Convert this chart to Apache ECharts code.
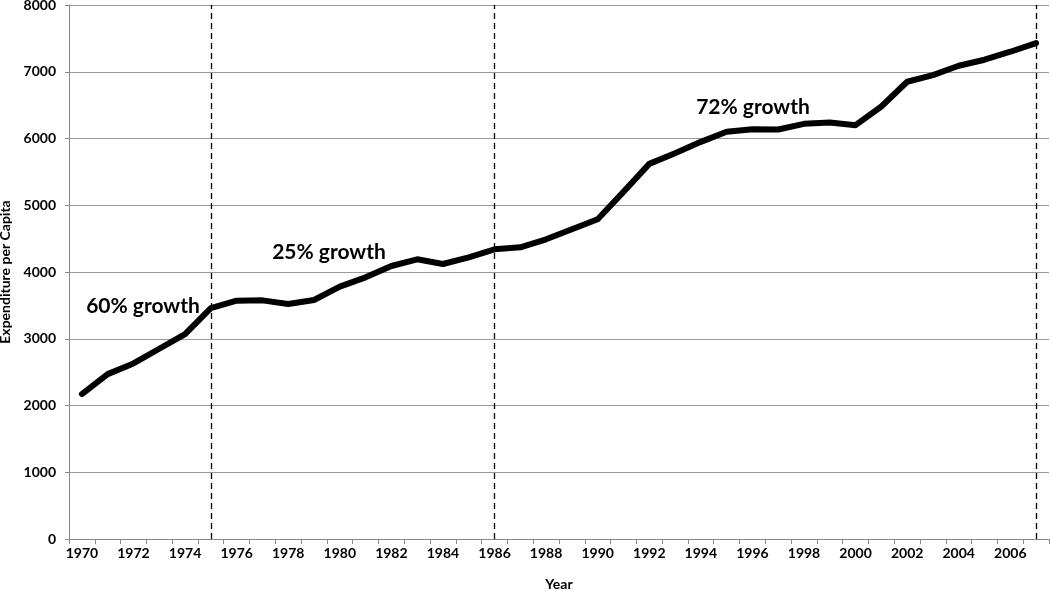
<!DOCTYPE html>
<html>
<head>
<meta charset="utf-8">
<script src="https://cdn.jsdelivr.net/npm/echarts@6/dist/echarts.min.js"></script>
<style>html,body{margin:0;padding:0;background:#fff}#c{width:1050px;height:590px}</style>
</head>
<body>
<div id="c"></div>
<script>
var years = ['1970','1971','1972','1973','1974','1975','1976','1977','1978','1979','1980','1981','1982','1983','1984','1985','1986','1987','1988','1989','1990','1991','1992','1993','1994','1995','1996','1997','1998','1999','2000','2001','2002','2003','2004','2005','2006','2007'];
var expenditure = [2172,2470,2630,2850,3070,3460,3570,3575,3520,3580,3780,3920,4090,4190,4120,4220,4340,4370,4490,4640,4790,5200,5620,5780,5950,6100,6140,6135,6220,6240,6200,6480,6850,6950,7090,7180,7300,7430];
var periodMarks = ['1975','1986','2007'];
var annotations = [
  {text:'60% growth', x:143, y:306},
  {text:'25% growth', x:329, y:252},
  {text:'72% growth', x:753, y:107}
];
var FONT = 'Lato, "Open Sans", sans-serif';
var chart = echarts.init(document.getElementById('c'));
chart.setOption({
  animation:false,
  grid:{left:69,right:1,top:5,bottom:51,containLabel:false,outerBoundsMode:'none'},
  xAxis:{
    type:'category', data:years, boundaryGap:true,
    name:'Year', nameLocation:'middle', nameGap:38,
    nameTextStyle:{fontFamily:FONT,fontWeight:'bold',fontSize:14,color:'#000'},
    axisLine:{lineStyle:{color:'#888',width:1}},
    axisTick:{show:true,length:5,interval:0,lineStyle:{color:'#888'}},
    axisLabel:{interval:1,fontFamily:FONT,fontWeight:'bold',fontSize:14,color:'#000',margin:7},
    splitLine:{show:false}
  },
  yAxis:{
    type:'value', min:0, max:8000, interval:1000,
    name:'Expenditure per Capita', nameLocation:'middle', nameGap:56,
    nameTextStyle:{fontFamily:FONT,fontWeight:'bold',fontSize:14,color:'#000'},
    axisLine:{show:true,lineStyle:{color:'#888',width:1}},
    axisTick:{show:true,length:4,lineStyle:{color:'#888'}},
    axisLabel:{formatter:function(v){return String(v);},fontFamily:FONT,fontWeight:'bold',fontSize:14,color:'#000',margin:13},
    splitLine:{lineStyle:{color:'#999',width:1}}
  },
  series:[{
    type:'line', data:expenditure, showSymbol:false, symbol:'none',
    lineStyle:{color:'#000',width:6,cap:'round',join:'round'},
    markLine:{
      silent:true, symbol:['none','none'],
      label:{show:false},
      lineStyle:{color:'#000',width:1.3,type:[6,4]},
      data: periodMarks.map(function(y){return {xAxis:y};})
    }
  }],
  graphic: annotations.map(function(a){
    return {type:'text', x:a.x, y:a.y, style:{text:a.text, font:'bold 21px '+FONT, fill:'#000', align:'center', verticalAlign:'middle', textAlign:'center', textVerticalAlign:'middle'}};
  })
});
</script>
</body>
</html>
